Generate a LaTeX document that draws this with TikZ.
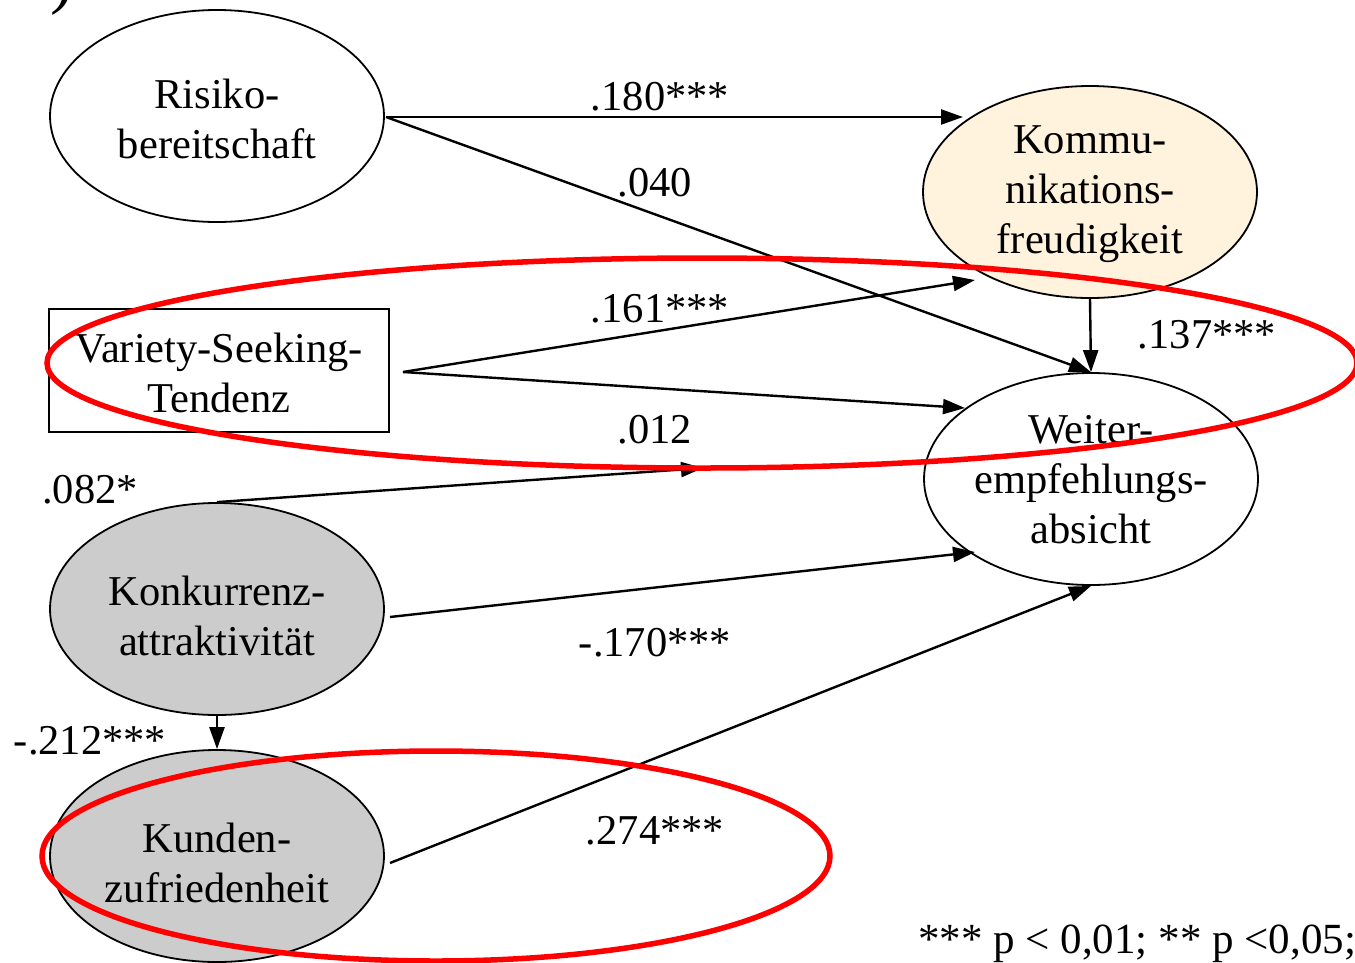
\documentclass[tikz,border=0pt]{standalone}
\usepackage{fontspec}
\setmainfont{Liberation Serif}
\usetikzlibrary{arrows.meta,shapes.geometric}
\definecolor{cream}{HTML}{FFF3DD}
\definecolor{lgray}{HTML}{CCCCCC}
\begin{document}
\begin{tikzpicture}[x=1pt,y=-1pt,
  txt/.style={font=\fontsize{42.5}{50}\selectfont, align=center, inner sep=0pt},
  lbl/.style={font=\fontsize{42.5}{50}\selectfont, inner sep=0pt},
  construct/.style={draw, line width=1.8pt, ellipse, inner sep=0pt,
    minimum width=334pt, minimum height=212pt},
  boxed/.style={draw, line width=1.5pt, inner sep=0pt,
    minimum width=340pt, minimum height=123pt},
  arrowpath/.style={line width=2.4pt, -{Triangle[length=22pt,width=15pt]}},
  redmark/.style={draw=red, line width=5.5pt}]
\useasboundingbox (0,0) rectangle (1355,962);
% cut-off heading fragment
\node[font=\fontsize{70}{70}\selectfont, anchor=south, inner sep=0pt] (hd) at (62,16) {)};
% constructs
\node[construct] (risk) at (217,116) {};
\node[construct, fill=cream] (komm) at (1090,192) {};
\node[boxed] (var) at (219,370.5) {};
\node[construct] (weit) at (1091,479) {};
\node[construct, fill=lgray] (konk) at (217,609) {};
\node[construct, fill=lgray] (kund) at (217,856) {};
% construct texts
\node[txt] (riskt) at ([yshift=-3pt]risk.center) {Risiko-\\bereitschaft};
\node[txt] (kommt) at ([yshift=-2pt]komm.center) {Kommu-\\nikations-\\freudigkeit};
\node[txt] (vart) at ([yshift=-2pt]var.center) {Variety-Seeking-\\Tendenz};
\node[txt] (weitt) at ([yshift=-1pt]weit.center) {Weiter-\\empfehlungs-\\absicht};
\node[txt] (konkt) at ([yshift=-7pt]konk.center) {Konkurrenz-\\attraktivität};
\node[txt] (kundt) at ([yshift=-7pt]kund.center) {Kunden-\\zufriedenheit};
% connector end points
\coordinate (riskout) at (386,117);
\coordinate (kommin) at (963,117);
\coordinate (varout) at (403,372);
\coordinate (kommin2) at (975,280);
\coordinate (weitin2) at (965,408);
\coordinate (mod) at (703,468);
\coordinate (konkout) at (390,617);
\coordinate (weitin3) at (975,552);
\coordinate (kundout) at (390,863);
% paths
\draw[arrowpath] (riskout) -- (kommin);
\draw[arrowpath] (riskout) -- (weit.north);
\draw[arrowpath] (varout) -- (kommin2);
\draw[arrowpath] (varout) -- (weitin2);
\draw[arrowpath] (konk.north) -- (mod);
\draw[arrowpath] (konkout) -- (weitin3);
\draw[arrowpath] (konk.south) -- (kund.north);
\draw[arrowpath] (kundout) -- (weit.south);
\draw[arrowpath] (komm.south) -- (weit.north);
% labels
\node[lbl] (l1) at (660,97) {.180***};
\node[lbl] (l2) at (655,183) {.040};
\node[lbl] (l3) at (660,309) {.161***};
\node[lbl] (l4) at (655,430) {.012};
\node[lbl] (l5) at (90,490) {.082*};
\node[lbl] (l6) at (655,643) {-.170***};
\node[lbl] (l7) at (90,741) {-.212***};
\node[lbl] (l8) at (655,831) {.274***};
\node[lbl] (l9) at (1207,335) {.137***};
\node[font=\fontsize{43}{45}\selectfont, anchor=base west, inner sep=0pt] (note) at (918,953) {*** p < 0,01; ** p <0,05;};
% red highlight marks
\draw[redmark] (702,363) ellipse [x radius=655, y radius=105];
\draw[redmark] (436,856) ellipse [x radius=394, y radius=105];
\end{tikzpicture}
\end{document}
